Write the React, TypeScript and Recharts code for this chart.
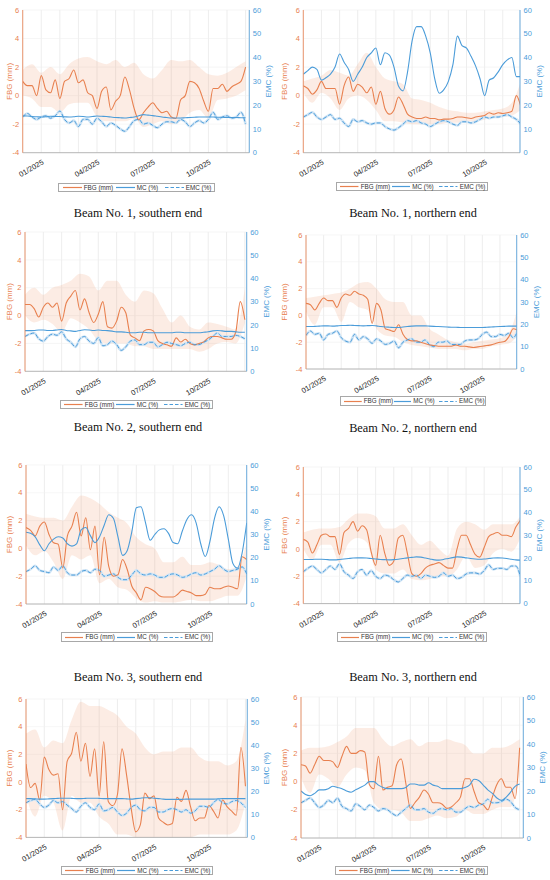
import React from 'react';
import { ComposedChart, Line, Area, XAxis, YAxis, CartesianGrid } from 'recharts';

const ORANGE = '#E8804F';
const BAND = '#F2A07A';
const BLUE = '#4B9CD9';
const BLUE_LIGHT = '#CFE4F5';
const FONT = '"Liberation Sans", Arial, sans-serif';

// x positions in months after 1 Dec 2024 (weekly-ish and half-month sampling)
const QUARTER = Array.from({ length: 49 }, (_, i) => i / 4);
const HALF = Array.from({ length: 25 }, (_, i) => i / 2);
const MONTH_TICKS = [0, 1, 2, 3, 4, 5, 6, 7, 8, 9, 10, 11, 12];
const TICK_LABELS: Record<number, string> = { 1: '01/2025', 4: '04/2025', 7: '07/2025', 10: '10/2025' };
const FBG_TICKS = [-4, -2, 0, 2, 4, 6];
const EMC_TICKS = [0, 10, 20, 30, 40, 50, 60];

// Beam 1, southern end
const fbg1 = [1.0,0.7,0.7,0.0,1.4,0.4,0.2,1.1,-0.2,1.0,1.2,1.8,0.9,1.1,0.2,0.0,-0.9,0.3,0.6,-1.0,-0.4,0.0,1.3,0.4,-0.9,-1.7,-1.2,-0.8,-0.5,-0.9,-1.2,-1.1,-1.5,-1.6,-0.3,0.0,1.0,0.9,0.5,-0.4,-1.1,0.5,0.5,0.8,0.3,0.6,0.8,1.0,2.0];
const mc1 = [15.5,15.4,15.2,15.1,15.0,15.1,15.3,15.2,15.2,15.1,15.0,15.1,15.3,15.2,15.0,15.2,15.4,15.3,15.2,15.0,14.8,14.7,14.6,14.8,15.0,15.5,16.0,15.8,15.6,15.3,15.0,14.8,14.6,14.6,14.6,14.7,14.8,14.9,15.0,15.0,15.0,15.0,14.9,14.9,14.8,14.8,14.8,14.7,14.7];
const emc1 = [15,16.5,15,14,15,15.5,14.5,15.5,17.5,14,12.5,13.5,11,14,14,12,14.5,13,11,12.5,11.5,10,9,11,13.5,14,12,12.5,11.5,10.5,12,13,13,12.5,14,13,11,12.5,13.5,12.5,14,17,14,15,15.5,14.5,15,17,12];
const hi1 = [1.8,2.2,1.6,2.0,1.5,2.2,2.6,2.7,2.4,2.2,2.5,2.0,2.3,1.5,1.2,1.8,2.5,2.4,2.5,2.0,1.5,1.4,1.6,2.0,2.4];
const lo1 = [0.0,-0.2,-0.8,-0.8,-1.2,-0.6,-0.5,-0.5,-1.5,-1.8,-1.8,-1.8,-1.6,-2.2,-2.0,-1.8,-2.0,-1.8,-1.2,-1.0,-1.6,-0.3,-0.2,0.0,0.4];

// Beam 1, northern end
const fbg2 = [0.7,0.5,0.1,0.4,1.0,0.5,0.5,0.5,-0.6,0.7,1.3,0.3,0.8,0.6,0.2,0.6,-0.6,0.3,-0.9,-1.3,-1.0,-0.1,-0.6,-1.3,-1.5,-1.6,-1.6,-1.5,-1.6,-1.6,-1.7,-1.65,-1.65,-1.6,-1.5,-1.5,-1.55,-1.6,-1.5,-1.45,-1.4,-1.2,-1.3,-1.2,-1.25,-1.2,-1.1,0.0,-0.8];
const mc2 = [33,34.5,36,35,30.5,31.5,33,36,41.5,38,35,30,33,36,40,42,44,37,42,41,36,28,26,34,47,53,53,49,42,31,25,26.5,30,37,49,45,44,40.5,36.5,31,24,30.5,31.5,34,37,39,40,32,32];
const emc2 = [15,16,17,15,14,15,16,14,14.5,12.5,11,14,13,13.5,12.5,12,12.5,12.5,11,10,9.5,10.5,12,13.5,13,13.5,12.5,12,11,12,13,13.5,13,12,11.5,13,13,12.5,13,14,15,14.5,15,15,15.5,16,15,14,12];
const hi2 = [1.0,1.2,1.4,1.8,1.6,1.4,2.2,3.0,2.0,1.2,1.0,0.8,-0.2,-0.3,-0.5,-0.8,-1.0,-1.1,-1.2,-1.2,-1.1,-1.0,-0.9,-0.5,1.0];
const lo2 = [0.2,-0.5,0.2,-0.2,-1.0,-0.2,0.0,-0.3,-1.0,-1.8,-1.8,-1.9,-2.0,-2.0,-2.0,-2.0,-1.9,-1.9,-1.8,-1.8,-1.7,-1.5,-1.5,-1.4,-1.0];

// Beam 2, southern end
const fbg3 = [0.8,0.8,0.5,-0.1,0.6,0.9,0.6,0.9,-0.4,0.9,1.4,1.8,0.4,1.2,0.2,-0.5,0.1,1.0,-0.8,-0.9,-0.4,0.6,0.2,-1.4,-1.6,-1.8,-1.1,-1.0,-1.1,-1.8,-2.0,-2.1,-2.2,-1.6,-1.9,-1.7,-2.0,-2.1,-2.0,-1.9,-1.6,-1.5,-1.5,-1.6,-1.7,-1.7,-1.2,1.0,-0.3];
const mc3 = [17.5,17.5,17.6,17.8,17.8,17.6,17.6,17.8,18,17.6,17.4,17.2,17.6,17.9,17.8,17.6,17.8,17.6,17.5,17.3,17.0,17.0,16.8,16.6,16.6,16.8,16.8,16.6,16.6,16.6,16.6,16.6,16.6,16.8,16.8,16.6,16.6,16.6,16.6,16.8,17.0,17.4,17.6,17.4,17.2,17.2,17.0,16.8,16.8];
const emc3 = [15,16,16.5,14,13,15,16,15.5,17,14,12.5,10.5,14,15,13,12,14.5,11,11.5,13,11.5,9,10.5,13,13.5,11.5,11.5,12.5,12.5,10.5,11.5,12.5,12,11.5,11,12,12.5,11.5,11.5,12.5,13.5,15,16.5,15,15,15,15.5,15,14];
const hi3 = [1.5,2.0,1.5,2.0,2.2,2.5,3.0,2.8,1.8,2.5,2.5,1.5,1.0,1.8,1.6,0.5,-0.5,0.0,-0.8,-1.0,-0.5,-0.6,-0.8,-1.0,2.0];
const lo3 = [0.0,-0.5,-0.3,-0.6,-1.2,-0.2,-0.5,-1.0,-1.8,-2.0,-2.0,-2.0,-2.2,-2.2,-2.4,-2.4,-2.4,-2.4,-2.4,-2.6,-2.4,-2.0,-1.9,-2.0,-0.5];

// Beam 2, northern end
const fbg4 = [0.9,0.8,0.4,0.9,1.3,1.1,1.1,0.6,1.3,1.6,1.5,1.8,1.6,1.5,1.2,-0.6,0.9,0.4,-1.0,-1.1,-1.2,-0.7,-1.4,-1.8,-1.9,-1.9,-2.0,-2.1,-2.2,-2.25,-2.3,-2.3,-2.3,-2.3,-2.2,-2.3,-2.3,-2.35,-2.4,-2.35,-2.3,-2.25,-2.2,-2.1,-2.0,-1.95,-1.6,-1.0,-1.1];
const mc4 = [19,19,19.1,19.2,19.3,19.3,19.2,19.3,19.5,19.5,19.6,19.5,19.4,19.3,19.4,19.5,19.3,19.0,18.8,18.7,18.6,18.6,18.8,19.0,19.2,19.3,19.3,19.3,19.2,19.1,19.0,18.9,18.8,18.7,18.7,18.6,18.6,18.6,18.6,18.6,18.6,18.7,18.8,18.9,19.0,19.1,19.2,19.2,19.2];
const emc4 = [15,17,15.5,16,13,15.5,16,17,14,12.5,12,15.5,13,14.5,13.5,11.5,13.5,12.5,11,11.5,12.5,9.5,12,13,13.5,12,12,13,11,10,12,12,12.5,11,11,11,12.5,13,13,13.5,15.5,16.5,14.5,14.5,15.5,15,16,14,17];
const hi4 = [1.3,1.4,1.5,1.6,1.7,2.0,2.4,2.5,2.0,1.2,1.0,1.0,0.0,0.0,-1.0,-1.4,-1.8,-2.0,-2.1,-2.0,-1.9,-1.8,-1.7,-1.3,0.5];
const lo4 = [0.3,-0.7,0.6,0.6,-0.5,1.0,0.6,0.4,-1.0,-1.5,-1.6,-2.0,-2.2,-2.3,-2.4,-2.5,-2.5,-2.5,-2.6,-2.5,-2.5,-2.3,-2.2,-2.1,-1.5];

// Beam 3, southern end
const fbg5 = [1.5,1.3,0.9,1.6,1.9,1.0,0.4,0.3,-1.4,0.9,1.6,2.6,0.9,2.2,-0.1,1.6,-1.9,0.8,-1.3,-2.0,-1.9,-0.8,-1.5,-2.7,-3.2,-3.7,-2.8,-2.9,-3.1,-3.4,-3.5,-3.5,-3.5,-3.3,-3.0,-3.1,-3.2,-3.4,-3.4,-3.3,-2.8,-2.9,-2.9,-2.8,-2.7,-2.8,-2.9,-0.6,-0.8];
const mc5 = [31,30.5,29,25.5,23,26,28,29,28.5,26,25,26,32,33,29.5,26.5,29,34,38.5,37,29,21,23,31,41.5,42,35,27.5,30,32,32.5,30.5,26.5,26,31.5,36.5,38.5,35,26,20.5,27,37,42,38,28,17.5,15.5,22,35];
const emc5 = [14,15,16.5,14.5,14,13.5,16,14.5,16.5,13.5,12.5,12.5,14,14.5,13.5,15,14.5,12,12.5,13,11.5,10.5,10.5,12.5,14.5,13,12.5,13,12.5,11.5,11.5,12.5,13,12.5,11.5,12,13,13.5,12.5,13,14,15,16.5,15,14,14.5,15,16,13];
const hi5 = [2.5,2.3,2.2,2.2,2.0,3.0,3.8,3.6,3.2,2.6,2.2,1.8,0.8,0.3,0.0,-1.0,-1.0,-0.6,-1.2,-1.2,-1.0,-1.2,-1.5,-1.3,0.4];
const lo5 = [0.2,-0.5,-0.2,-1.0,-2.2,-0.5,-0.8,-0.5,-2.5,-2.2,-2.8,-3.0,-3.6,-3.9,-3.8,-3.9,-3.9,-3.8,-3.7,-3.8,-3.8,-3.6,-3.4,-3.4,-2.0];

// Beam 3, northern end
const fbg6 = [0.7,0.5,-0.3,0.3,1.0,1.1,0.9,0.9,-0.4,1.2,1.5,2.0,1.3,1.7,1.4,-0.2,-1.2,1.0,-0.3,-1.2,-0.9,0.8,1.0,-0.3,-1.8,-2.0,-1.8,-1.4,-1.2,-1.1,-1.0,-1.2,-1.4,-1.4,0.0,1.0,1.0,0.3,-0.4,-0.6,0.1,0.9,1.1,1.2,1.0,1.0,0.9,1.6,2.1];
const mc6 = [19.4,19.4,19.4,19.5,19.5,19.4,19.2,19.2,19.4,19.6,19.8,20.0,20.1,20.1,20.0,19.8,19.6,19.4,19.3,19.2,19.3,19.5,19.8,20.1,20.3,20.5,20.4,20.0,19.6,19.2,19.1,19.4,19.8,20.2,20.5,20.4,20.1,19.8,19.6,19.5,19.6,19.8,20.0,20.1,20.0,19.8,19.5,19.2,19.1];
const emc6 = [14,15.5,16.5,15,13.5,15,16.5,15,17.5,14,12.5,11,14,15,12.5,14.5,12,11,12.5,12,10.5,9.5,11,12.5,12,12.5,11,12.5,12,11.5,12,13.5,12,12.5,11,11.5,13,13.5,13.5,13,14.5,17,15,15.5,15.5,15,16.5,16.5,12];
const hi6 = [1.2,1.4,1.5,1.5,1.6,2.2,2.6,2.6,2.4,1.5,1.5,1.8,1.0,0.3,0.6,0.0,-0.5,1.5,2.0,1.8,1.4,1.8,1.8,1.8,2.4];
const lo6 = [0.0,-0.8,0.3,0.3,-1.0,0.4,0.8,0.5,-1.5,-1.8,-1.8,-1.5,-2.2,-2.3,-2.2,-2.0,-2.0,-1.5,-0.5,-1.4,-1.2,-0.3,0.0,-0.2,0.8];

// Bottom row, left (no caption)
const fbg7 = [1.3,-0.4,-0.1,-1.3,1.8,0.9,0.5,0.6,-2.0,1.5,2.1,3.6,1.5,2.8,0.4,2.4,-1.0,2.9,-1.4,-1.7,-0.9,2.4,0.5,-1.9,-3.6,-3.1,-0.8,-1.2,-1.0,-2.6,-2.9,-3.1,-3.0,-1.1,-1.4,-0.6,-1.8,-2.8,-2.6,-2.6,-1.7,-2.1,-2.6,-1.3,-1.8,-2.1,-2.4,2.5,-0.3];
const mc7 = [16.8,16.8,16.7,16.6,16.6,16.7,16.8,16.9,17.0,17.0,16.9,16.8,16.8,16.9,17.0,17.0,16.9,16.8,16.8,16.8,16.8,16.8,16.7,16.6,16.8,17.0,17.2,17.2,17.0,16.8,16.6,16.5,16.5,16.5,16.5,16.6,16.6,16.6,16.6,16.6,16.6,16.6,16.7,16.8,16.8,16.8,16.8,16.8,16.8];
const emc7 = [15,16,16.5,14.5,13,14,16,15,15.5,14,12.5,11,13.5,15,13,12,14.5,11.5,12,13,11,9.5,10.5,13,14,12,11.5,13,13,11,11,12,12.5,12,11,12,10.5,11.5,13.5,13.5,13,15,16.5,15,14.5,15.5,16,15,13];
const hi7 = [3.5,3.8,2.5,3.0,2.8,4.5,5.8,5.5,5.5,5.2,4.8,4.0,3.5,2.5,2.0,2.2,2.2,2.5,2.5,1.8,1.5,1.5,1.2,1.5,4.5];
const lo7 = [-1.0,-2.5,-1.0,-1.5,-3.5,-1.0,-1.5,-1.5,-2.5,-3.0,-3.8,-3.8,-4.0,-4.0,-4.0,-4.0,-4.0,-4.0,-4.0,-3.8,-3.8,-3.8,-3.8,-3.5,-1.5];

// Bottom row, right
const fbg8 = [1.2,1.1,0.6,1.2,1.8,1.5,1.5,1.4,1.0,1.8,2.5,2.0,2.0,2.2,2.1,-0.2,-0.5,1.8,-0.6,-0.4,-0.3,1.2,1.6,-0.1,-1.9,-1.5,-1.1,-0.6,-0.9,-1.5,-1.5,-1.6,-1.9,-1.8,-1.5,-1.1,0.2,0.2,-0.7,-1.5,-1.65,-2.0,-1.1,-0.2,0.2,-0.4,-0.4,-1.2,2.4];
const mc8 = [20,18.5,18,19,20.5,20.5,21,22,21.5,21,20,19.5,20.5,21.5,22.5,24,24,22.5,21.5,21,21,21,21,21.5,23,23,22.5,22.5,23.5,22.5,22,21,21,21,21,21,21.5,22.5,25,24.5,22.5,20.5,19,17,16,17.3,19.5,22,23];
const emc8 = [15,16,17,15,13,14,16,15,17,13.5,12.5,11.5,14.5,13.5,12,14,13,11.5,12.5,12,10.5,9.5,11,12.5,14,12,12,12.5,11,10.5,12,12.5,12,12.5,11,11,12.5,13.5,13,14,14.5,16.5,15,15,15.5,16.5,15.5,13,12];
const hi8 = [2.2,2.4,2.4,2.5,2.8,3.2,3.8,3.8,3.8,3.0,2.5,2.8,3.0,2.5,2.8,2.8,3.0,2.8,2.6,2.0,2.0,2.4,2.4,2.6,3.0];
const lo8 = [0.3,-0.8,0.5,0.2,-0.4,0.5,1.0,0.8,-1.5,-2.0,-2.0,-2.2,-2.8,-2.8,-2.6,-2.4,-2.6,-2.5,-2.0,-2.3,-2.3,-2.0,-1.8,-1.8,0.5];

type PanelSpec = {
  col: number; l: number; r: number; t: number; b: number; end: number;
  fbg: number[]; mc: number[]; emc: number[]; hi: number[]; lo: number[];
  legend: [number, number, number];
  caption?: string; capY?: number;
};

const panels: PanelSpec[] = [
  { col: 0, l: 22.7, r: 249.3, t: 10, b: 152.7, end: 12.2, fbg: fbg1, mc: mc1, emc: emc1, hi: hi1, lo: lo1, legend: [58.3, 182.5, 156.5], caption: 'Beam No. 1, southern end', capY: 212.7 },
  { col: 1, l: 303.3, r: 520, t: 10, b: 152.7, end: 11.95, fbg: fbg2, mc: mc2, emc: emc2, hi: hi2, lo: lo2, legend: [336, 181.5, 152], caption: 'Beam No. 1, northern end', capY: 213 },
  { col: 0, l: 25, r: 246.7, t: 231.7, b: 371, end: 12.1, fbg: fbg3, mc: mc3, emc: emc3, hi: hi3, lo: lo3, legend: [60, 399.5, 153], caption: 'Beam No. 2, southern end', capY: 427.3 },
  { col: 1, l: 306, r: 516.7, t: 235, b: 369, end: 11.95, fbg: fbg4, mc: mc4, emc: emc4, hi: hi4, lo: lo4, legend: [340, 396, 146], caption: 'Beam No. 2, northern end', capY: 428 },
  { col: 0, l: 26, r: 246.7, t: 465, b: 604, end: 12.0, fbg: fbg5, mc: mc5, emc: emc5, hi: hi5, lo: lo5, legend: [60.7, 632, 152.3], caption: 'Beam No. 3, southern end', capY: 676.7 },
  { col: 1, l: 303.3, r: 520, t: 466.7, b: 603.3, end: 11.98, fbg: fbg6, mc: mc6, emc: emc6, hi: hi6, lo: lo6, legend: [336.7, 632, 150], caption: 'Beam No. 3, northern end', capY: 676.7 },
  { col: 0, l: 26, r: 247.3, t: 699.3, b: 837.7, end: 12.1, fbg: fbg7, mc: mc7, emc: emc7, hi: hi7, lo: lo7, legend: [61, 865.5, 152] },
  { col: 1, l: 301, r: 523.3, t: 697.3, b: 838.3, end: 12.2, fbg: fbg8, mc: mc8, emc: emc8, hi: hi8, lo: lo8, legend: [335, 865.5, 153] },
];

const renderMonthTick = (props: any) => {
  const { x, y, payload } = props;
  const label = TICK_LABELS[payload.value];
  if (!label) return <g />;
  const ax = x + 3;
  const ay = y + 11;
  return (
    <text x={ax} y={ay} transform={`rotate(-30 ${ax} ${ay})`} textAnchor="end" fontSize={7.5} fontFamily={FONT} fill="#262626">
      {label}
    </text>
  );
};

function LegendBox({ x, y, w }: { x: number; y: number; w: number }) {
  const k = w / 156.5;
  const item = (left: number, label: string, stroke: string, dash?: string) => (
    <React.Fragment key={label}>
      <svg style={{ position: 'absolute', left: left * k, top: 2.5 }} width={19 * k} height={3}>
        <line x1={0} y1={1.5} x2={19 * k} y2={1.5} stroke={stroke} strokeWidth={1.2} strokeDasharray={dash} />
      </svg>
      <span style={{ position: 'absolute', left: (left + 21) * k, top: 0, lineHeight: '8px', whiteSpace: 'nowrap' }}>{label}</span>
    </React.Fragment>
  );
  return (
    <div
      style={{
        position: 'absolute', left: x, top: y, width: w, height: 9.5, boxSizing: 'border-box',
        border: '0.8px solid #A8A8A8', background: '#fff', fontFamily: FONT, fontSize: 6.3, color: '#333',
      }}
    >
      {item(3.4, 'FBG (mm)', ORANGE)}
      {item(56.5, 'MC (%)', BLUE)}
      {item(105.5, 'EMC (%)', BLUE, '3.5 2')}
    </div>
  );
}

function BeamPanel({ p }: { p: PanelSpec }) {
  const left = p.col * 275;
  const top = p.t - 6;
  const height = 6 + (p.b - p.t) + 40;
  const fbgData = QUARTER.map((m, i) => ({ m, v: p.fbg[i] }));
  const mcData = QUARTER.map((m, i) => ({ m, v: p.mc[i] }));
  const emcData = QUARTER.map((m, i) => ({ m, v: p.emc[i] }));
  const bandData = HALF.map((m, i) => ({ m, r: [p.lo[i], p.hi[i]] }));
  const ticks = MONTH_TICKS.filter((t) => t <= p.end);

  return (
    <>
      <div style={{ position: 'absolute', left, top }}>
        <ComposedChart width={275} height={height} margin={{ top: 6, right: 0, bottom: 0, left: 0 }}>
          <CartesianGrid yAxisId="fbg" horizontal={false} stroke="#E0E0E0" strokeWidth={0.6} />
          <CartesianGrid yAxisId="fbg" vertical={false} stroke="#F0F0F0" strokeWidth={0.6} />
          <XAxis
            dataKey="m"
            type="number"
            domain={[0, p.end]}
            ticks={ticks}
            interval={0}
            allowDataOverflow
            height={40}
            tickLine={false}
            tickSize={0}
            tickMargin={0}
            tick={renderMonthTick}
            axisLine={{ stroke: '#A6A6A6', strokeWidth: 0.8 }}
          />
          <YAxis
            yAxisId="fbg"
            orientation="left"
            width={p.l - left}
            domain={[-4, 6]}
            ticks={FBG_TICKS}
            interval={0}
            allowDataOverflow
            tickLine={false}
            tickSize={0}
            tickMargin={3.5}
            tick={{ fontSize: 7.5, fill: ORANGE, fontFamily: FONT }}
            axisLine={{ stroke: ORANGE, strokeWidth: 0.8 }}
            label={{ value: 'FBG (mm)', angle: -90, position: 'insideLeft', offset: 9, fill: ORANGE, fontSize: 8, fontFamily: FONT, style: { textAnchor: 'middle' } }}
          />
          <YAxis
            yAxisId="emc"
            orientation="right"
            width={left + 275 - p.r}
            domain={[0, 60]}
            ticks={EMC_TICKS}
            interval={0}
            allowDataOverflow
            tickLine={false}
            tickSize={0}
            tickMargin={3.5}
            tick={{ fontSize: 7.5, fill: BLUE, fontFamily: FONT }}
            axisLine={{ stroke: BLUE, strokeWidth: 0.8 }}
            label={{ value: 'EMC (%)', angle: -90, position: 'insideLeft', offset: 19, fill: BLUE, fontSize: 8, fontFamily: FONT, style: { textAnchor: 'middle' } }}
          />
          <Area yAxisId="fbg" data={bandData} dataKey="r" type="monotone" stroke="none" fill={BAND} fillOpacity={0.2} isAnimationActive={false} />
          <Line yAxisId="emc" data={emcData} dataKey="v" type="monotone" stroke={BLUE_LIGHT} strokeWidth={2.6} dot={false} isAnimationActive={false} />
          <Line yAxisId="fbg" data={fbgData} dataKey="v" type="monotone" stroke={ORANGE} strokeWidth={1.1} dot={false} isAnimationActive={false} />
          <Line yAxisId="emc" data={mcData} dataKey="v" type="monotone" stroke={BLUE} strokeWidth={1.1} dot={false} isAnimationActive={false} />
          <Line yAxisId="emc" data={emcData} dataKey="v" type="monotone" stroke={BLUE} strokeWidth={1} strokeDasharray="4 2" dot={false} isAnimationActive={false} />
        </ComposedChart>
      </div>
      <LegendBox x={p.legend[0]} y={p.legend[1]} w={p.legend[2]} />
      {p.caption && (
        <div
          style={{
            position: 'absolute', left: left + 138, top: (p.capY ?? 0) - 7, transform: 'translateX(-50%)',
            whiteSpace: 'nowrap', fontFamily: '"Liberation Serif", serif', fontSize: 12.3, lineHeight: '14px', color: '#111',
          }}
        >
          {p.caption}
        </div>
      )}
    </>
  );
}

export default function App() {
  return (
    <div style={{ position: 'absolute', left: 0, top: 0, width: 550, height: 880, background: '#fff', overflow: 'hidden' }}>
      {panels.map((p, i) => (
        <BeamPanel key={i} p={p} />
      ))}
    </div>
  );
}
